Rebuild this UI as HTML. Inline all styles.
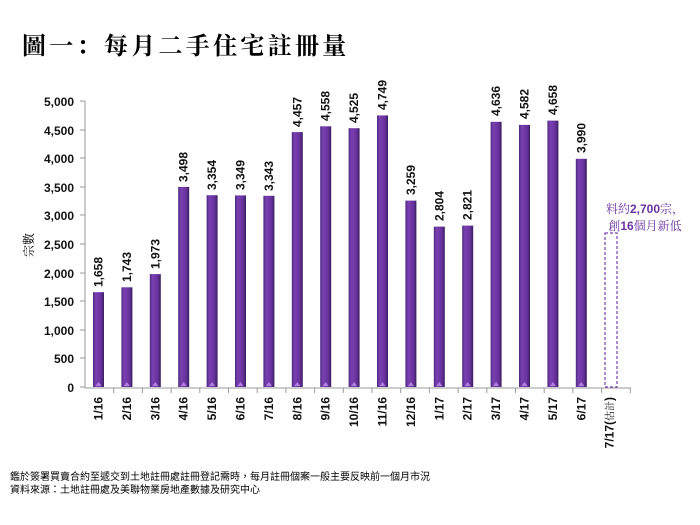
<!DOCTYPE html>
<html><head><meta charset="utf-8"><style>body{margin:0;background:#fff}svg{display:block}</style></head><body>
<svg width="700" height="525" xmlns="http://www.w3.org/2000/svg" font-family="Liberation Sans, Noto Sans CJK TC, sans-serif">
<defs><linearGradient id="g" x1="0" x2="1"><stop offset="0" stop-color="#4a2a80"/><stop offset="0.25" stop-color="#7a3fb0"/><stop offset="0.7" stop-color="#6a32a0"/><stop offset="1" stop-color="#3a1f60"/></linearGradient>
<symbol id="tri" overflow="visible"><path d="M2.5 386 L5.5 382 L8.5 386Z" fill="#b080e0"/></symbol></defs>
<text x="22" y="54" font-size="24" font-weight="bold" font-family="Noto Serif CJK SC, Noto Sans CJK TC, serif" letter-spacing="3.3" fill="#000">圖一：每月二手住宅註冊量</text>
<text transform="translate(33,245) rotate(-90)" font-size="12" text-anchor="middle" font-family="Noto Serif CJK SC, serif">宗數</text>
<g font-size="12" font-weight="bold" text-anchor="end" fill="#111">
<text x="74" y="106">5,000</text><text x="74" y="135">4,500</text><text x="74" y="163">4,000</text><text x="74" y="192">3,500</text><text x="74" y="220">3,000</text><text x="74" y="249">2,500</text><text x="74" y="278">2,000</text><text x="74" y="306">1,500</text><text x="74" y="335">1,000</text><text x="74" y="363">500</text><text x="74" y="392">0</text>
</g>
<g stroke="#999" stroke-width="1">
<line x1="85" y1="101" x2="85" y2="388"/><line x1="85" y1="388" x2="631" y2="388"/>
<line x1="80" y1="101" x2="85" y2="101"/><line x1="80" y1="130" x2="85" y2="130"/><line x1="80" y1="158" x2="85" y2="158"/><line x1="80" y1="187" x2="85" y2="187"/><line x1="80" y1="215" x2="85" y2="215"/><line x1="80" y1="244" x2="85" y2="244"/><line x1="80" y1="273" x2="85" y2="273"/><line x1="80" y1="301" x2="85" y2="301"/><line x1="80" y1="330" x2="85" y2="330"/><line x1="80" y1="358" x2="85" y2="358"/><line x1="80" y1="387" x2="85" y2="387"/>
<line x1="113.7" y1="388" x2="113.7" y2="393"/><line x1="142.4" y1="388" x2="142.4" y2="393"/><line x1="171.1" y1="388" x2="171.1" y2="393"/><line x1="199.8" y1="388" x2="199.8" y2="393"/><line x1="228.5" y1="388" x2="228.5" y2="393"/><line x1="257.2" y1="388" x2="257.2" y2="393"/><line x1="285.9" y1="388" x2="285.9" y2="393"/><line x1="314.6" y1="388" x2="314.6" y2="393"/><line x1="343.3" y1="388" x2="343.3" y2="393"/><line x1="372" y1="388" x2="372" y2="393"/><line x1="400.7" y1="388" x2="400.7" y2="393"/><line x1="429.4" y1="388" x2="429.4" y2="393"/><line x1="458.1" y1="388" x2="458.1" y2="393"/><line x1="486.8" y1="388" x2="486.8" y2="393"/><line x1="515.5" y1="388" x2="515.5" y2="393"/><line x1="544.2" y1="388" x2="544.2" y2="393"/><line x1="572.9" y1="388" x2="572.9" y2="393"/><line x1="601.6" y1="388" x2="601.6" y2="393"/><line x1="630.3" y1="388" x2="630.3" y2="393"/>
</g>
<g font-size="12" font-weight="bold" fill="#111">
<g transform="translate(93,0)"><rect y="292.2" width="11" height="94.8" fill="url(#g)"/><use href="#tri"/><text transform="translate(9.5,287) rotate(-90)">1,658</text><text transform="translate(9.5,397) rotate(-90)" text-anchor="end">1/16</text></g>
<g transform="translate(121.4,0)"><rect y="287.3" width="11" height="99.7" fill="url(#g)"/><use href="#tri"/><text transform="translate(9.5,282) rotate(-90)">1,743</text><text transform="translate(9.5,397) rotate(-90)" text-anchor="end">2/16</text></g>
<g transform="translate(149.8,0)"><rect y="274.1" width="11" height="112.9" fill="url(#g)"/><use href="#tri"/><text transform="translate(9.5,269) rotate(-90)">1,973</text><text transform="translate(9.5,397) rotate(-90)" text-anchor="end">3/16</text></g>
<g transform="translate(178.2,0)"><rect y="186.9" width="11" height="200.1" fill="url(#g)"/><use href="#tri"/><text transform="translate(9.5,182) rotate(-90)">3,498</text><text transform="translate(9.5,397) rotate(-90)" text-anchor="end">4/16</text></g>
<g transform="translate(206.6,0)"><rect y="195.2" width="11" height="191.8" fill="url(#g)"/><use href="#tri"/><text transform="translate(9.5,190) rotate(-90)">3,354</text><text transform="translate(9.5,397) rotate(-90)" text-anchor="end">5/16</text></g>
<g transform="translate(235,0)"><rect y="195.4" width="11" height="191.6" fill="url(#g)"/><use href="#tri"/><text transform="translate(9.5,190) rotate(-90)">3,349</text><text transform="translate(9.5,397) rotate(-90)" text-anchor="end">6/16</text></g>
<g transform="translate(263.4,0)"><rect y="195.8" width="11" height="191.2" fill="url(#g)"/><use href="#tri"/><text transform="translate(9.5,191) rotate(-90)">3,343</text><text transform="translate(9.5,397) rotate(-90)" text-anchor="end">7/16</text></g>
<g transform="translate(291.8,0)"><rect y="132.1" width="11" height="254.9" fill="url(#g)"/><use href="#tri"/><text transform="translate(9.5,127) rotate(-90)">4,457</text><text transform="translate(9.5,397) rotate(-90)" text-anchor="end">8/16</text></g>
<g transform="translate(320.2,0)"><rect y="126.3" width="11" height="260.7" fill="url(#g)"/><use href="#tri"/><text transform="translate(9.5,121) rotate(-90)">4,558</text><text transform="translate(9.5,397) rotate(-90)" text-anchor="end">9/16</text></g>
<g transform="translate(348.6,0)"><rect y="128.2" width="11" height="258.8" fill="url(#g)"/><use href="#tri"/><text transform="translate(9.5,123) rotate(-90)">4,525</text><text transform="translate(9.5,397) rotate(-90)" text-anchor="end">10/16</text></g>
<g transform="translate(377,0)"><rect y="115.4" width="11" height="271.6" fill="url(#g)"/><use href="#tri"/><text transform="translate(9.5,110) rotate(-90)">4,749</text><text transform="translate(9.5,397) rotate(-90)" text-anchor="end">11/16</text></g>
<g transform="translate(405.4,0)"><rect y="200.6" width="11" height="186.4" fill="url(#g)"/><use href="#tri"/><text transform="translate(9.5,195) rotate(-90)">3,259</text><text transform="translate(9.5,397) rotate(-90)" text-anchor="end">12/16</text></g>
<g transform="translate(433.8,0)"><rect y="226.6" width="11" height="160.4" fill="url(#g)"/><use href="#tri"/><text transform="translate(9.5,221) rotate(-90)">2,804</text><text transform="translate(9.5,397) rotate(-90)" text-anchor="end">1/17</text></g>
<g transform="translate(462.2,0)"><rect y="225.6" width="11" height="161.4" fill="url(#g)"/><use href="#tri"/><text transform="translate(9.5,220) rotate(-90)">2,821</text><text transform="translate(9.5,397) rotate(-90)" text-anchor="end">2/17</text></g>
<g transform="translate(490.6,0)"><rect y="121.8" width="11" height="265.2" fill="url(#g)"/><use href="#tri"/><text transform="translate(9.5,116) rotate(-90)">4,636</text><text transform="translate(9.5,397) rotate(-90)" text-anchor="end">3/17</text></g>
<g transform="translate(519,0)"><rect y="124.9" width="11" height="262.1" fill="url(#g)"/><use href="#tri"/><text transform="translate(9.5,119) rotate(-90)">4,582</text><text transform="translate(9.5,397) rotate(-90)" text-anchor="end">4/17</text></g>
<g transform="translate(547.4,0)"><rect y="120.6" width="11" height="266.4" fill="url(#g)"/><use href="#tri"/><text transform="translate(9.5,115) rotate(-90)">4,658</text><text transform="translate(9.5,397) rotate(-90)" text-anchor="end">5/17</text></g>
<g transform="translate(575.8,0)"><rect y="158.8" width="11" height="228.2" fill="url(#g)"/><use href="#tri"/><text transform="translate(9.5,153) rotate(-90)">3,990</text><text transform="translate(9.5,397) rotate(-90)" text-anchor="end">6/17</text></g>
<g transform="translate(604.2,0)"><text transform="translate(9.5,397) rotate(-90)" text-anchor="end">7/17(<tspan font-weight="normal" font-size="10" font-family="Noto Serif CJK SC, serif">估計</tspan>)</text></g>
</g>
<rect x="605" y="233" width="12" height="154" fill="none" stroke="#7a3fb0" stroke-dasharray="3,2" stroke-width="1.2"/>
<text x="645" y="213" font-size="12" fill="#6a32a0" text-anchor="middle" font-family="Noto Serif CJK SC, serif">料約<tspan font-family="Liberation Sans" font-weight="bold">2,700</tspan>宗，</text>
<text x="645" y="230" font-size="12" fill="#6a32a0" text-anchor="middle" font-family="Noto Serif CJK SC, serif">創<tspan font-family="Liberation Sans" font-weight="bold">16</tspan>個月新低</text>
<text x="10" y="480" font-size="10" font-family="Noto Sans CJK TC, sans-serif">鑑於簽署買賣合約至遞交到土地註冊處註冊登記需時，每月註冊個案一般主要反映前一個月市況</text>
<text x="10" y="493" font-size="10" font-family="Noto Sans CJK TC, sans-serif">資料來源：土地註冊處及美聯物業房地產數據及研究中心</text>
</svg>
</body></html>
